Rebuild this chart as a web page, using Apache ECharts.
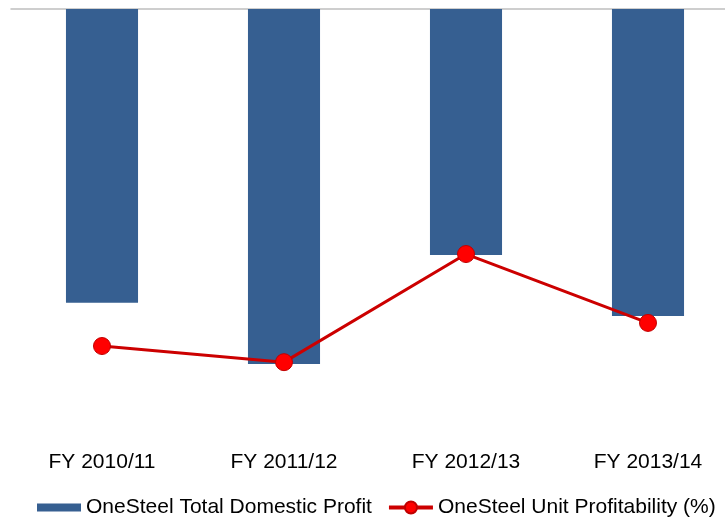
<!DOCTYPE html>
<html>
<head>
<meta charset="utf-8">
<script src="https://cdn.jsdelivr.net/npm/echarts@6/dist/echarts.min.js"></script>
<style>
  html, body { margin: 0; padding: 0; background: #fff; }
  #chart { width: 725px; height: 517px; }
</style>
</head>
<body>
<div id="chart"></div>
<script>
// values (axis hidden, both series plotted downward from zero)
var categories = ["FY 2010/11", "FY 2011/12", "FY 2012/13", "FY 2013/14"];
var domesticProfit = [-67.4, -81.4, -56.4, -70.4];
var unitProfitability = [-77.3, -81.0, -56.2, -72.0];

var chart = echarts.init(document.getElementById("chart"));
chart.setOption({
  animation: false,
  textStyle: { fontFamily: "Liberation Sans, Arial, sans-serif" },
  // plot area runs a little past the right edge, like the source
  grid: { left: 11, width: 728, top: 9, height: 436, outerBoundsMode: "none" },
  legend: {
    left: 32,
    top: 492,
    itemWidth: 44,
    itemHeight: 15,
    itemGap: 15,
    textStyle: { fontSize: 21, color: "#000", fontFamily: "Liberation Sans, Arial, sans-serif" },
    data: [
      { name: "OneSteel Total Domestic Profit", icon: "path://M0,0H44V8H0Z" },
      { name: "OneSteel Unit Profitability (%)", lineStyle: { width: 4, color: "#cc0000" } }
    ]
  },
  xAxis: [
    {
      // zero line along the top
      type: "category",
      data: categories,
      position: "top",
      axisLine: { lineStyle: { color: "#bfbfbf", width: 1.5 } },
      axisTick: { show: false },
      axisLabel: { show: false }
    },
    {
      type: "category",
      data: categories,
      position: "bottom",
      axisLine: { show: false },
      axisTick: { show: false },
      axisLabel: { fontSize: 21, color: "#000", margin: 7 }
    }
  ],
  yAxis: [
    { type: "value", min: -100, max: 0, show: false, splitLine: { show: false } },
    { type: "value", min: -100, max: 0, show: false, splitLine: { show: false } }
  ],
  series: [
    {
      name: "OneSteel Total Domestic Profit",
      type: "bar",
      xAxisIndex: 0,
      yAxisIndex: 0,
      barWidth: "39.6%",
      itemStyle: { color: "#365f91" },
      data: domesticProfit
    },
    {
      name: "OneSteel Unit Profitability (%)",
      type: "line",
      xAxisIndex: 0,
      yAxisIndex: 1,
      symbol: "circle",
      symbolSize: 17,
      lineStyle: { color: "#cc0000", width: 3 },
      itemStyle: { color: "#ff0000", borderColor: "#c00000", borderWidth: 1 },
      data: unitProfitability
    }
  ]
});
</script>
</body>
</html>
